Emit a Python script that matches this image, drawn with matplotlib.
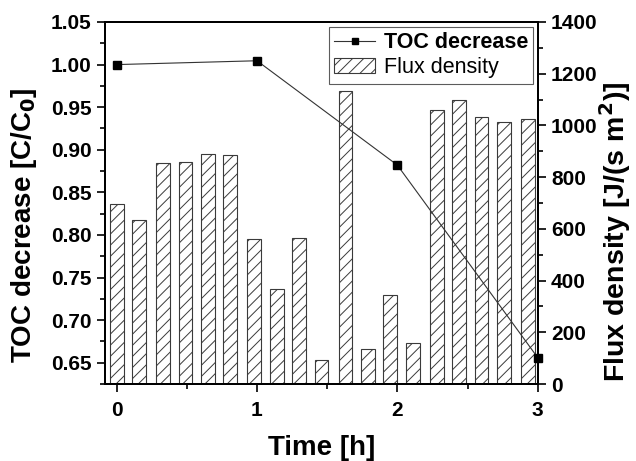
import numpy as np
import matplotlib.pyplot as plt
from matplotlib.patches import Patch
from matplotlib.lines import Line2D
from matplotlib.ticker import MultipleLocator

plt.rcParams['font.family'] = ['Liberation Sans', 'DejaVu Sans']
plt.rcParams['font.weight'] = 'bold'
plt.rcParams['hatch.linewidth'] = 0.7

# data
toc_time = [0, 1, 2, 3]
toc_ratio = [1.000, 1.0045, 0.882, 0.656]

flux_time = [0, 0.16, 0.33, 0.49, 0.65, 0.81, 0.98, 1.14, 1.30, 1.46,
             1.63, 1.79, 1.95, 2.11, 2.28, 2.44, 2.60, 2.76, 2.93]
flux = [697, 634, 853, 858, 889, 885, 562, 366, 563, 93,
        1133, 135, 343, 159, 1060, 1098, 1031, 1012, 1026]

fig = plt.figure(figsize=(6.36, 4.61), dpi=100)
ax = fig.add_axes([105/636, 1 - 384/461, (537.7 - 105)/636, (384 - 22)/461])
ax2 = ax.twinx()
ax.set_zorder(ax2.get_zorder() + 1)
ax.patch.set_visible(False)

# hatched bars on the right axis
ax2.bar(flux_time, flux, width=0.098, color='white', edgecolor='#3a3a3a',
        hatch='///', linewidth=0.8)
ax2.set_ylim(0, 1400)
ax2.yaxis.set_major_locator(MultipleLocator(200))
ax2.yaxis.set_minor_locator(MultipleLocator(100))
ax2.set_ylabel("Flux density [J/(s m$^\\mathbf{2}$)]", fontsize=20.5, fontweight='bold')
ax2.yaxis.set_label_coords(1.138, 0.42)

# TOC line on the left axis
ax.plot(toc_time, toc_ratio, color='#333333', linewidth=0.8, marker='s',
        markersize=6, markerfacecolor='black', markeredgecolor='black', clip_on=False)
ax.set_xlim(-0.083, 3.0)
ax.set_ylim(0.625, 1.05)
ax.xaxis.set_major_locator(MultipleLocator(1))
ax.xaxis.set_minor_locator(MultipleLocator(0.5))
ax.yaxis.set_major_locator(MultipleLocator(0.05))
ax.yaxis.set_minor_locator(MultipleLocator(0.025))
ax.yaxis.set_major_formatter(plt.FormatStrFormatter('%.2f'))
ax.set_xlabel("Time [h]", fontsize=20, fontweight='bold', labelpad=11)
ax.set_ylabel("TOC decrease [C/C$_\\mathbf{0}$]", fontsize=20, fontweight='bold')
ax.yaxis.set_label_coords(-0.152, 0.44)

for a in (ax, ax2):
    a.tick_params(which='both', direction='out', width=1.2, labelsize=15)
    a.tick_params(which='major', length=6)
    a.tick_params(which='minor', length=3.5)
    for s in a.spines.values():
        s.set_linewidth(1.4)
    for lab in a.get_xticklabels() + a.get_yticklabels():
        lab.set_fontweight('bold')
ax.tick_params(axis='x', pad=6)

handles = [Line2D([], [], color='#333333', lw=0.8, marker='s', markersize=5,
                  markerfacecolor='black', markeredgecolor='black'),
           Patch(facecolor='white', edgecolor='#3a3a3a', hatch='///', linewidth=0.8)]
leg = ax.legend(handles, ["TOC decrease", "Flux density"], loc='upper right',
                bbox_to_anchor=(0.995, 0.993), fontsize=15.5, frameon=True, fancybox=False,
                edgecolor='#333333', handlelength=1.9, handletextpad=0.4,
                borderpad=0.25, labelspacing=0.2, borderaxespad=0.1)
leg.get_frame().set_linewidth(0.8)
leg.get_texts()[0].set_fontweight('bold')
leg.get_texts()[1].set_fontweight('normal')

fig.savefig("out.png", dpi=100)
